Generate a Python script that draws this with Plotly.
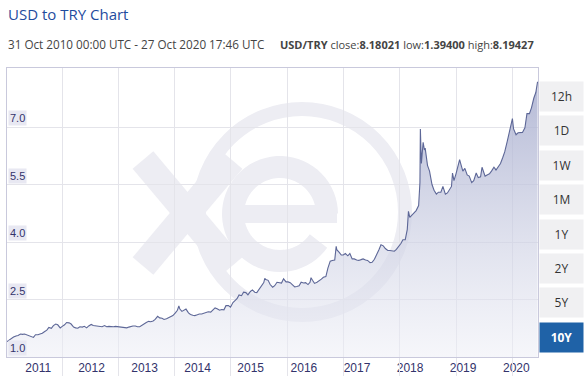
import plotly.graph_objects as go
import numpy as np

# ---------------- data ----------------
dates = [
    "2010-10-31", "2010-11-15", "2010-12-01", "2010-12-15",
    "2011-01-01", "2011-01-15", "2011-02-01", "2011-02-15", "2011-03-01", "2011-03-15",
    "2011-04-01", "2011-04-15", "2011-05-01", "2011-05-15", "2011-06-01", "2011-06-15",
    "2011-07-01", "2011-07-15", "2011-08-01", "2011-08-15", "2011-09-01", "2011-09-15",
    "2011-10-01", "2011-10-15", "2011-11-01", "2011-11-15", "2011-12-01", "2011-12-15",
    "2012-01-01", "2012-01-15", "2012-02-01", "2012-02-15", "2012-03-01", "2012-03-15",
    "2012-04-01", "2012-04-15", "2012-05-01", "2012-05-15", "2012-06-01", "2012-06-15",
    "2012-07-01", "2012-07-15", "2012-08-01", "2012-08-15", "2012-09-01", "2012-09-15",
    "2012-10-01", "2012-10-15", "2012-11-01", "2012-11-15", "2012-12-01", "2012-12-15",
    "2013-01-01", "2013-01-15", "2013-02-01", "2013-02-15", "2013-03-01", "2013-03-15",
    "2013-04-01", "2013-04-15", "2013-05-01", "2013-05-15", "2013-06-01", "2013-06-15",
    "2013-07-01", "2013-07-15", "2013-08-01", "2013-08-15", "2013-09-01", "2013-09-15",
    "2013-10-01", "2013-10-15", "2013-11-01", "2013-11-15", "2013-12-01", "2013-12-15",
    "2014-01-01", "2014-01-15", "2014-01-25", "2014-02-01", "2014-02-15", "2014-03-01",
    "2014-03-15", "2014-04-01", "2014-04-15", "2014-05-01", "2014-05-15", "2014-06-01",
    "2014-06-15", "2014-07-01", "2014-07-15", "2014-08-01", "2014-08-15", "2014-09-01",
    "2014-09-15", "2014-10-01", "2014-10-15", "2014-11-01", "2014-11-15", "2014-12-01",
    "2014-12-15",
    "2015-01-01", "2015-01-15", "2015-02-01", "2015-02-15", "2015-03-01", "2015-03-15",
    "2015-04-01", "2015-04-15", "2015-05-01", "2015-05-15", "2015-06-01", "2015-06-15",
    "2015-07-01", "2015-07-15", "2015-08-01", "2015-08-15", "2015-09-01", "2015-09-08",
    "2015-09-15", "2015-10-01", "2015-10-15", "2015-11-01", "2015-11-15", "2015-12-01",
    "2015-12-15",
    "2016-01-01", "2016-01-15", "2016-02-01", "2016-02-15", "2016-03-01", "2016-03-15",
    "2016-04-01", "2016-04-15", "2016-05-01", "2016-05-15", "2016-06-01", "2016-06-15",
    "2016-07-01", "2016-07-15", "2016-07-22", "2016-08-01", "2016-08-15", "2016-09-01",
    "2016-09-15", "2016-10-01", "2016-10-15", "2016-11-01", "2016-11-15", "2016-12-01",
    "2016-12-15",
    "2017-01-01", "2017-01-11", "2017-01-15", "2017-02-01", "2017-02-15", "2017-03-01",
    "2017-03-15", "2017-04-01", "2017-04-15", "2017-05-01", "2017-05-15", "2017-06-01",
    "2017-06-15", "2017-07-01", "2017-07-15", "2017-08-01", "2017-08-15", "2017-09-01",
    "2017-09-15", "2017-10-01", "2017-10-15", "2017-11-01", "2017-11-15", "2017-12-01",
    "2017-12-15",
    "2018-01-01", "2018-01-15", "2018-02-01", "2018-02-15", "2018-03-01", "2018-03-15",
    "2018-04-01", "2018-04-15", "2018-05-01", "2018-05-15", "2018-05-23", "2018-06-01",
    "2018-06-15", "2018-07-01", "2018-07-15", "2018-08-01", "2018-08-10", "2018-08-13",
    "2018-08-15", "2018-08-20", "2018-09-01", "2018-09-10", "2018-09-15", "2018-10-01",
    "2018-10-15", "2018-11-01", "2018-11-15", "2018-12-01", "2018-12-15",
    "2019-01-01", "2019-01-15", "2019-02-01", "2019-02-15", "2019-03-01", "2019-03-15",
    "2019-03-22", "2019-04-01", "2019-04-15", "2019-05-01", "2019-05-10", "2019-05-15",
    "2019-06-01", "2019-06-15", "2019-07-01", "2019-07-15", "2019-08-01", "2019-08-15",
    "2019-09-01", "2019-09-15", "2019-10-01", "2019-10-11", "2019-10-15", "2019-11-01",
    "2019-11-15", "2019-12-01", "2019-12-15",
    "2020-01-01", "2020-01-15", "2020-02-01", "2020-02-15", "2020-03-01", "2020-03-15",
    "2020-04-01", "2020-04-15", "2020-05-01", "2020-05-07", "2020-05-15", "2020-06-01",
    "2020-06-15", "2020-07-01", "2020-07-15", "2020-08-01", "2020-08-15", "2020-09-01",
    "2020-09-15", "2020-10-01", "2020-10-15", "2020-10-27",
]
rates = [
    1.40, 1.44, 1.50, 1.52,
    1.55, 1.56, 1.60, 1.59, 1.60, 1.58,
    1.55, 1.52, 1.51, 1.58, 1.58, 1.60,
    1.62, 1.66, 1.70, 1.77, 1.75, 1.82,
    1.86, 1.84, 1.76, 1.80, 1.84, 1.90,
    1.89, 1.86, 1.78, 1.76, 1.75, 1.79,
    1.78, 1.80, 1.76, 1.81, 1.85, 1.82,
    1.81, 1.82, 1.79, 1.79, 1.82, 1.79,
    1.80, 1.79, 1.79, 1.80, 1.79, 1.78,
    1.78, 1.77, 1.76, 1.78, 1.80, 1.81,
    1.81, 1.79, 1.79, 1.83, 1.87, 1.90,
    1.93, 1.92, 1.94, 1.98, 2.06, 2.02,
    2.01, 1.98, 2.00, 2.02, 2.04, 2.08,
    2.15, 2.22, 2.33, 2.25, 2.19, 2.22,
    2.25, 2.15, 2.11, 2.09, 2.08, 2.10,
    2.12, 2.12, 2.14, 2.16, 2.18, 2.17,
    2.22, 2.28, 2.26, 2.22, 2.24, 2.23,
    2.34,
    2.34, 2.30, 2.42, 2.47, 2.52, 2.62,
    2.60, 2.69, 2.68, 2.62, 2.71, 2.75,
    2.69, 2.68, 2.77, 2.85, 2.94, 3.05,
    3.02, 3.00, 2.89, 2.82, 2.86, 2.95,
    2.94,
    2.93, 3.04, 2.96, 2.96, 2.94, 2.89,
    2.83, 2.84, 2.86, 2.95, 2.93, 2.94,
    2.89, 2.95, 3.07, 3.00, 2.92, 2.95,
    2.98, 3.03, 3.08, 3.10, 3.32, 3.50,
    3.52,
    3.53, 3.89, 3.80, 3.73, 3.66, 3.66,
    3.70, 3.64, 3.70, 3.56, 3.56, 3.53,
    3.52, 3.54, 3.56, 3.53, 3.52, 3.46,
    3.47, 3.55, 3.65, 3.80, 3.93, 3.90,
    3.83,
    3.78, 3.78, 3.76, 3.76, 3.81, 3.87,
    3.96, 4.06, 4.06, 4.33, 4.80, 4.64,
    4.70, 4.78, 4.82, 4.95, 5.55, 6.95,
    6.10, 6.05, 6.60, 6.40, 6.45, 6.00,
    5.85, 5.50, 5.35, 5.25, 5.30,
    5.30, 5.45, 5.25, 5.28, 5.35, 5.45,
    5.80, 5.60, 5.78, 5.98, 6.15, 6.08,
    5.85, 5.92, 5.75, 5.72, 5.55, 5.60,
    5.80, 5.68, 5.70, 5.95, 5.90, 5.72,
    5.75, 5.78, 5.85,
    5.95, 5.88, 5.98, 6.05, 6.20, 6.35,
    6.62, 6.85, 7.05, 7.22, 6.95, 6.80,
    6.85, 6.85, 6.86, 6.98, 7.35, 7.35,
    7.50, 7.75, 7.90, 8.18,
]
y_ticks = [1.0, 2.5, 4.0, 5.5, 7.0]
y_labels = ["1.0", "2.5", "4.0", "5.5", "7.0"]
year_labels = ["2011", "2012", "2013", "2014", "2015", "2016", "2017", "2018", "2019", "2020"]
buttons = ["12h", "1D", "1W", "1M", "1Y", "2Y", "5Y", "10Y"]
title_text = "USD to TRY Chart"
range_text = "31 Oct 2010 00:00 UTC - 27 Oct 2020 17:46 UTC"
stats_text = "<b>USD/TRY</b> close:<b>8.18021</b> low:<b>1.39400</b> high:<b>8.19427</b>"

# ---------------- layout geometry (pixels) ----------------
W, H = 585, 376
L, R, T, B = 7, 538, 68, 357
PW, PH = R - L, B - T


def px(x):
    return (x - L) / PW


def py(y):
    return (B - y) / PH


NAVY = "#33336b"
GRID = "#e4e4ea"
WM = "#ededf3"

fig = go.Figure()
fig.add_trace(go.Scatter(
    x=dates, y=rates, mode="lines",
    line=dict(color="#5d6797", width=1.1),
    fill="tozeroy",
    fillgradient=dict(type="vertical", start=1.0, stop=8.3,
                      colorscale=[[0, "rgba(238,239,246,0.55)"],
                                  [1, "rgba(165,171,205,0.85)"]]),
    hoverinfo="x+y", showlegend=False,
))
# invisible trace to activate overlay x axis (grid divisions)
fig.add_trace(go.Scatter(x=[0, 1], y=[None, None], xaxis="x2", showlegend=False,
                         hoverinfo="skip"))

shapes = []
# watermark ring
cx, cy, rr = 302, 212, 103
shapes.append(dict(type="circle", xref="paper", yref="paper",
                   x0=px(cx - rr), x1=px(cx + rr), y0=py(cy + rr), y1=py(cy - rr),
                   line=dict(color=WM, width=14), layer="below"))
# watermark "x"
for (xa, ya, xb, yb) in [(143, 160, 232, 266), (143, 266, 232, 160)]:
    shapes.append(dict(type="line", xref="paper", yref="paper",
                       x0=px(xa), y0=py(ya), x1=px(xb), y1=py(yb),
                       line=dict(color=WM, width=27), layer="below"))
# watermark "e"
ex, ey, er = 280, 214, 47
ang = np.linspace(np.deg2rad(-35), np.deg2rad(-360), 60)
pts = [(ex + er * np.cos(a), ey - er * np.sin(a)) for a in ang]
path = "M " + " L ".join(f"{px(a):.5f},{py(b):.5f}" for a, b in pts)
shapes.append(dict(type="path", xref="paper", yref="paper", path=path,
                   line=dict(color=WM, width=22), layer="below"))
shapes.append(dict(type="line", xref="paper", yref="paper",
                   x0=px(ex - er), y0=py(ey), x1=px(ex + er + 10), y1=py(ey),
                   line=dict(color=WM, width=18), layer="below"))

annotations = []
# title + subtitle
annotations.append(dict(text=title_text, xref="paper", yref="paper", x=px(6), y=py(14),
                        xanchor="left", yanchor="middle", showarrow=False,
                        font=dict(family="Open Sans", size=15, color="#1f4c9e")))
annotations.append(dict(text=range_text, xref="paper", yref="paper", x=px(6), y=py(44),
                        xanchor="left", yanchor="middle", showarrow=False,
                        font=dict(family="Open Sans", size=11.7, color="#444444")))
annotations.append(dict(text=stats_text, xref="paper", yref="paper", x=px(278), y=py(44),
                        xanchor="left", yanchor="middle", showarrow=False,
                        font=dict(family="Open Sans", size=11, color="#444444")))
# y labels inside the plot
for v, t in zip(y_ticks, y_labels):
    annotations.append(dict(text=t, xref="paper", yref="y", x=px(8), y=v,
                            xanchor="left", yanchor="bottom", yshift=1, showarrow=False,
                            bgcolor="#e8e8f2", borderpad=1,
                            font=dict(family="Liberation Sans", size=11, color=NAVY)))
# range buttons
btn_top, btn_step, btn_h = 82, 34.4, 29
for i, b in enumerate(buttons):
    active = (b == "10Y")
    yc = btn_top + btn_step * i + btn_h / 2
    annotations.append(dict(text=f"<b>{b}</b>" if active else b, xref="paper", yref="paper",
                            x=px(561), y=py(yc), xanchor="center", yanchor="middle",
                            width=43, height=btn_h, showarrow=False, borderpad=0,
                            bgcolor="#1f62a7" if active else "#f0f0f2",
                            font=dict(family="Open Sans", size=12,
                                      color="white" if active else "#333333")))

grid_step = 56.3
grid_vals = [px(62 + grid_step * k) for k in range(9)]

fig.update_layout(
    width=W, height=H,
    margin=dict(l=L, r=W - R, t=T, b=H - B, autoexpand=False),
    paper_bgcolor="white", plot_bgcolor="white",
    showlegend=False,
    xaxis=dict(
        type="date", range=["2010-10-31", "2020-10-30"],
        tickvals=[f"{y}-06-03" for y in year_labels], ticktext=year_labels,
        ticks="", showgrid=False, zeroline=False, automargin=False,
        showline=True, linecolor="#c9c9dc", linewidth=1, mirror=True,
        tickfont=dict(family="Liberation Sans", size=12, color=NAVY),
        fixedrange=True,
    ),
    xaxis2=dict(
        overlaying="x", anchor="y", side="bottom", range=[0, 1], automargin=False,
        tickvals=grid_vals, showticklabels=False, showgrid=True, gridcolor=GRID,
        ticks="outside", ticklen=19, tickcolor=GRID, zeroline=False, showline=False,
    ),
    yaxis=dict(
        range=[1.0, 8.54], tickvals=y_ticks, showticklabels=False, automargin=False,
        showgrid=True, gridcolor=GRID, zeroline=False,
        showline=True, linecolor="#c9c9dc", mirror=True, fixedrange=True,
    ),
    shapes=shapes,
    annotations=annotations,
)

fig.write_html(
    "out.html",
    config={"displayModeBar": False},
    post_script="document.body.style.margin='0';document.body.style.overflow='hidden';",
)
